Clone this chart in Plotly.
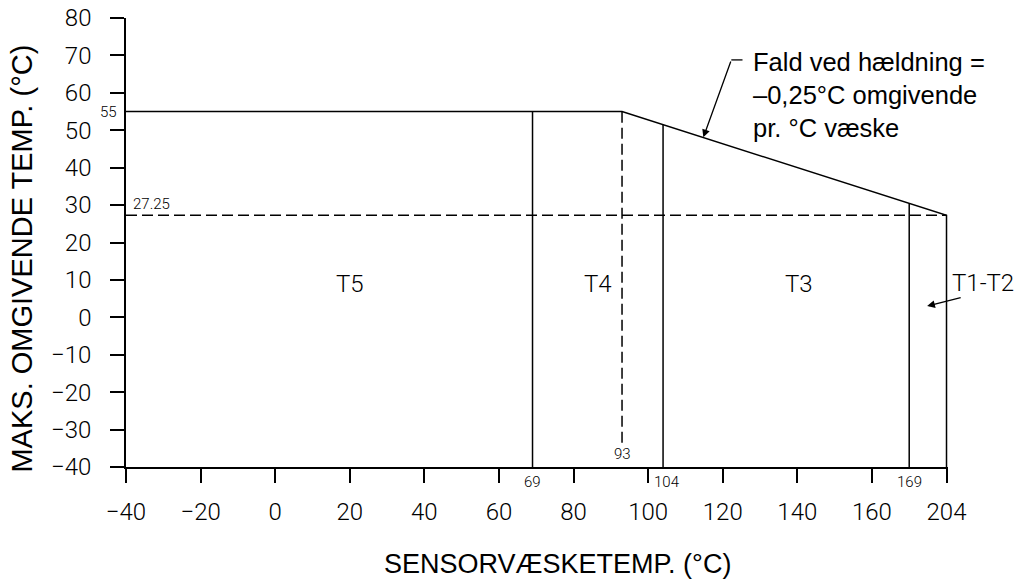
import numpy as np
import plotly.graph_objects as go

# ---- axis ticks ----
x_tick_vals = [-40, -20, 0, 20, 40, 60, 80, 100, 120, 140, 160, 180]
x_tick_text = ["−40", "−20", "0", "20", "40", "60", "80", "100", "120", "140", "160", "204"]
y_tick_vals = [-40, -30, -20, -10, 0, 10, 20, 30, 40, 50, 60, 70, 80]
y_tick_text = ["−40", "−30", "−20", "−10", "0", "10", "20", "30", "40", "50", "60", "70", "80"]

# ---- temperature-class boundaries (drawn position on the axis, printed label) ----
boundary_x = [69, 93, 104, 170, 180]
boundary_labels = ["69", "93", "104", "169", "204"]

# ---- max ambient envelope ----
max_ambient = 55
end_ambient = 27.25
envelope_x = [-40, 93, 180]
envelope_y = [max_ambient, max_ambient, end_ambient]
axis_min = -40

class_names = ["T5", "T4", "T3", "T1-T2"]

x_title = "SENSORVÆSKETEMP. (°C)"
y_title = "MAKS. OMGIVENDE TEMP. (°C)"
note = "Fald ved hældning =<br>–0,25°C omgivende<br>pr. °C væske"

CAD = "Roboto"
ARIAL = "Liberation Sans, Arial"
BLACK = "#000000"
LW = 1.5

fig = go.Figure()

# envelope (horizontal, sloped, right edge down to axis)
fig.add_trace(go.Scatter(
    x=envelope_x + [envelope_x[-1]],
    y=envelope_y + [axis_min],
    mode="lines", line=dict(color=BLACK, width=LW), hoverinfo="skip", showlegend=False))

# solid class boundaries up to the envelope
sx, sy = [], []
for bx in [boundary_x[0], boundary_x[2], boundary_x[3]]:
    top = float(np.interp(bx, envelope_x, envelope_y))
    sx += [bx, bx, None]
    sy += [axis_min, top, None]
fig.add_trace(go.Scatter(x=sx, y=sy, mode="lines", line=dict(color=BLACK, width=LW),
                         hoverinfo="skip", showlegend=False))

# dashed 93 line
fig.add_trace(go.Scatter(x=[boundary_x[1], boundary_x[1]], y=[-33.5, max_ambient], mode="lines",
                         line=dict(color=BLACK, width=LW, dash="11px,5px"),
                         hoverinfo="skip", showlegend=False))
# dashed 27.25 line
fig.add_trace(go.Scatter(x=[axis_min, boundary_x[-1]], y=[end_ambient, end_ambient], mode="lines",
                         line=dict(color=BLACK, width=LW, dash="11px,5px"),
                         hoverinfo="skip", showlegend=False))

small = dict(family=CAD, size=15, color=BLACK, weight=300)
big = dict(family=CAD, size=24, color=BLACK, weight=300)

ann = []
# axis titles
ann.append(dict(x=0.5255, y=-0.2159, xref="paper", yref="paper", text=x_title, showarrow=False,
                xanchor="center", yanchor="middle", font=dict(family=ARIAL, size=27, color=BLACK)))
ann.append(dict(x=-0.1259, y=0.4632, xref="paper", yref="paper", text=y_title, showarrow=False,
                textangle=-90, xanchor="center", yanchor="middle",
                font=dict(family=ARIAL, size=29, color=BLACK)))

# value labels
ann.append(dict(x=axis_min, y=max_ambient, xref="x", yref="y", text=str(max_ambient),
                showarrow=False, xanchor="right", yanchor="middle", xshift=-7, font=small))
ann.append(dict(x=axis_min, y=end_ambient, xref="x", yref="y", text=f"{end_ambient:.2f}",
                showarrow=False, xanchor="left", yanchor="bottom", xshift=5, yshift=0, font=small))
ann.append(dict(x=boundary_x[1], y=-36.4, xref="x", yref="y", text=boundary_labels[1],
                showarrow=False, xanchor="center", yanchor="middle", font=small))
for bx, lab, xa, xs in [(boundary_x[0], boundary_labels[0], "center", 0),
                        (boundary_x[2], boundary_labels[2], "left", -11),
                        (boundary_x[3], boundary_labels[3], "center", 0)]:
    ann.append(dict(x=bx, y=axis_min, xref="x", yref="y", text=lab, showarrow=False,
                    xanchor=xa, yanchor="top", xshift=xs, yshift=-4, font=small))

# class labels
for name, cx in zip(class_names[:3], [20, 86.5, 140.5]):
    ann.append(dict(x=cx, y=9, xref="x", yref="y", text=name, showarrow=False,
                    xanchor="center", yanchor="middle", font=big))
ann.append(dict(x=1.0426, y=9.1, xref="paper", yref="y", text=class_names[3], showarrow=False,
                xanchor="center", yanchor="middle", font=big))
# T1-T2 arrow
ann.append(dict(x=174.8, y=3.0, xref="x", yref="y", ax=184.2, ay=5.4, axref="x", ayref="y",
                text="", showarrow=True, arrowhead=2, arrowsize=1.2, arrowwidth=1.3,
                arrowcolor=BLACK))

# slope note
ann.append(dict(x=127.5, y=59.4, xref="x", yref="y", text=note,
                showarrow=False, xanchor="left", yanchor="middle", align="left",
                font=dict(family=ARIAL, size=25.5, color=BLACK)))
ann.append(dict(x=114.8, y=48.1, xref="x", yref="y", ax=122.3, ay=68.8, axref="x", ayref="y",
                text="", showarrow=True, arrowhead=2, arrowsize=1.2, arrowwidth=1.3,
                arrowcolor=BLACK))
fig.add_shape(type="line", x0=122.3, y0=68.8, x1=125.3, y1=68.8, xref="x", yref="y",
              line=dict(color=BLACK, width=1.3))

axis_common = dict(showline=True, linecolor=BLACK, linewidth=LW, ticks="outside", ticklen=14,
                   tickwidth=LW, tickcolor=BLACK, showgrid=False, zeroline=False,
                   automargin=False, tickfont=big, ticklabeloverflow="allow", tickmode="array")

fig.update_layout(
    width=1016, height=581,
    margin=dict(l=126, r=68, t=18, b=114, autoexpand=False),
    paper_bgcolor="white", plot_bgcolor="white",
    showlegend=False,
    annotations=ann,
    xaxis=dict(range=[-40, 180.4], tickvals=x_tick_vals, ticktext=x_tick_text,
               ticklabelstandoff=8, **axis_common),
    yaxis=dict(range=[-40, 80], tickvals=y_tick_vals, ticktext=y_tick_text,
               ticklabelstandoff=14, **axis_common),
)

fig.write_html("out.html", config={"displayModeBar": False},
               post_script="document.body.style.margin='0px';")
